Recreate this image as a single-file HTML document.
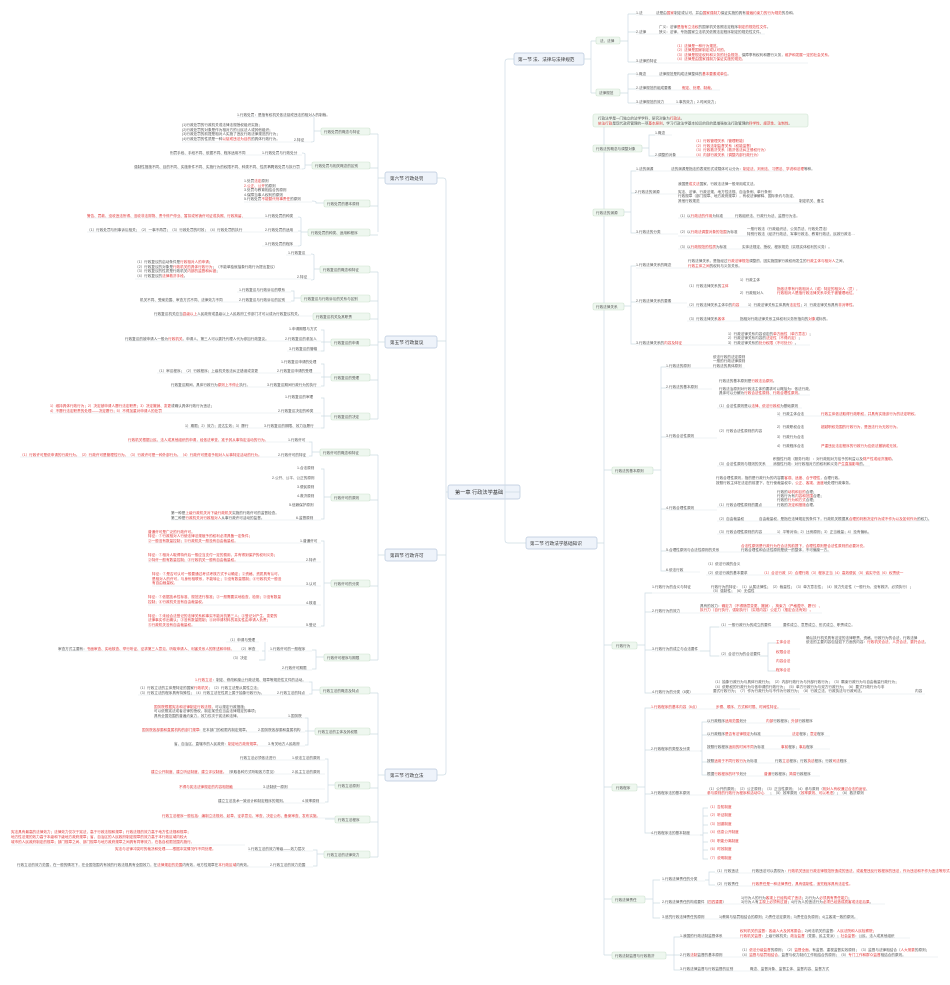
<!DOCTYPE html>
<html><head><meta charset="utf-8">
<style>
html,body{margin:0;padding:0;background:#fff;}
svg{display:block;font-family:"Liberation Sans","Noto Sans CJK SC",sans-serif;}
.g{fill:#555;font-size:3.6px}
.r{fill:#e03a3a;font-size:3.6px}
.n{font-size:4.6px;fill:#333}
.b{font-size:5.2px;fill:#333}
.l{fill:none;stroke:#cddbe4;stroke-width:0.7}
.u{fill:none;stroke:#dfe7ec;stroke-width:0.5}
.sb{fill:#eef3fa;stroke:#b8c8dc;stroke-width:0.7}
.nb{fill:#eef7ef;stroke:#cfe3d0;stroke-width:0.6}
</style></head><body>
<svg width="950" height="985" viewBox="0 0 950 985" xmlns="http://www.w3.org/2000/svg">
<!-- central -->
<rect class="sb" x="448" y="485" width="72" height="14" rx="2"/>
<text class="b" x="455" y="494">第一章 行政法学基础</text>
<!-- left trunk -->
<path class="l" d="M448 492 H446 V181 Q446 178 443 178 H437 M446 492 V772 Q446 775 443 775 H437 M446 341 H437 M446 555 H437"/>
<!-- right trunk -->
<path class="l" d="M520 492 H505 V62 Q505 59 508 59 H514 M505 492 V540 Q505 543 508 543 H526"/>
<!-- section nodes -->
<rect class="sb" x="385" y="172" width="52" height="12" rx="2"/><text class="n" x="390" y="180">第六节 行政处罚</text>
<rect class="sb" x="385" y="336" width="52" height="12" rx="2"/><text class="n" x="390" y="344">第五节 行政复议</text>
<rect class="sb" x="385" y="549" width="52" height="12" rx="2"/><text class="n" x="390" y="557">第四节 行政许可</text>
<rect class="sb" x="385" y="769" width="52" height="12" rx="2"/><text class="n" x="390" y="777">第三节 行政立法</text>
<rect class="sb" x="514" y="53" width="70" height="12" rx="2"/><text class="n" x="518" y="61">第一节 法、法律与法律规范</text>
<rect class="sb" x="526" y="537" width="71" height="12" rx="2"/><text class="n" x="530" y="545">第二节 行政法学基础知识</text>

<!-- LEFT section connectors -->
<path class="l" d="M385 178 H378 M378 134 V232 M378 134 H370 M378 168 H370 M378 206 H370 M378 235 H370"/>
<path class="l" d="M385 342 H378 M378 272 V419 M378 272 H370 M378 301 H370 M378 319 H370 M378 345 H370 M378 380 H370 M378 419 H370"/>
<path class="l" d="M385 555 H378 M378 455 V660 M378 455 H370 M378 500 H370 M378 586 H370 M378 660 H370"/>
<path class="l" d="M385 775 H378 M378 693 V857 M378 693 H370 M378 734 H370 M378 788 H370 M378 822 H370 M378 857 H370"/>

<!-- LEFT second-level nodes -->
<g>
<rect class="nb" x="321" y="128" width="49" height="7" rx="1.5"/><text class="g" x="324" y="133">行政处罚的概念与特征</text>
<rect class="nb" x="312" y="162" width="58" height="7" rx="1.5"/><text class="g" x="315" y="167">行政处罚与相关概念的区别</text>
<rect class="nb" x="324" y="200" width="46" height="7" rx="1.5"/><text class="g" x="327" y="205">行政处罚的基本原则</text>
<rect class="nb" x="308" y="229" width="62" height="7" rx="1.5"/><text class="g" x="311" y="234">行政处罚的种类、适用和程序</text>
<rect class="nb" x="320" y="266" width="50" height="7" rx="1.5"/><text class="g" x="323" y="271">行政复议的概念和特征</text>
<rect class="nb" x="301" y="295" width="69" height="7" rx="1.5"/><text class="g" x="304" y="300">行政复议与行政诉讼的关系与区别</text>
<rect class="nb" x="313" y="313" width="57" height="7" rx="1.5"/><text class="g" x="316" y="318">行政复议机关及其职责</text>
<rect class="nb" x="331" y="339" width="39" height="7" rx="1.5"/><text class="g" x="334" y="344">行政复议的申请</text>
<rect class="nb" x="331" y="374" width="39" height="7" rx="1.5"/><text class="g" x="334" y="379">行政复议的受理</text>
<rect class="nb" x="331" y="413" width="39" height="7" rx="1.5"/><text class="g" x="334" y="418">行政复议的决定</text>
<rect class="nb" x="320" y="449" width="50" height="7" rx="1.5"/><text class="g" x="323" y="454">行政许可的概念和特征</text>
<rect class="nb" x="331" y="494" width="39" height="7" rx="1.5"/><text class="g" x="334" y="499">行政许可的原则</text>
<rect class="nb" x="331" y="580" width="39" height="7" rx="1.5"/><text class="g" x="334" y="585">行政许可的分类</text>
<rect class="nb" x="324" y="654" width="46" height="7" rx="1.5"/><text class="g" x="327" y="659">行政许可程序与期限</text>
<rect class="nb" x="320" y="687" width="50" height="7" rx="1.5"/><text class="g" x="323" y="692">行政立法的概念及特点</text>
<rect class="nb" x="315" y="728" width="55" height="7" rx="1.5"/><text class="g" x="318" y="733">行政立法的主体及其权限</text>
<rect class="nb" x="335" y="782" width="35" height="7" rx="1.5"/><text class="g" x="338" y="787">行政立法原则</text>
<rect class="nb" x="335" y="816" width="35" height="7" rx="1.5"/><text class="g" x="338" y="821">行政立法程序</text>
<rect class="nb" x="324" y="851" width="46" height="7" rx="1.5"/><text class="g" x="327" y="856">行政立法的法律效力</text>
</g>

<!-- LEFT leaves: connectors -->
<path class="l" d="M321 131 H314 V117 Q314 116 311 116 M314 131 V141 Q314 142 311 142
M312 165 H305 V154 Q305 153 302 153 M305 165 V168 Q305 169 302 169
M324 203 H316 V202 Q316 201 312 201
M308 232 H301 V218 Q301 217 298 217 M301 232 V245 Q301 246 298 246 M301 232 V231 H298
M320 269 H314 V255 Q314 254 311 254 M314 269 V279 Q314 280 311 280
M301 298 H294 V291 H291 M294 298 V301 H291
M331 342 H324 V330 H321 M324 342 V351 H321 M324 342 H321
M331 377 H324 V364 H321 M324 377 V386 H321 M324 377 H321
M331 416 H324 V398 H321 M324 416 V428 H321 M324 416 H321
M320 452 H312 V442 H309 M312 452 V456 H309
M331 497 H324 V469 H321 M324 497 V519 H321
M331 583 H324 V541 H321 M324 583 V626 H321
M324 657 H316 V650 H312 M316 657 V669 H312
M320 690 H312 V682 H309 M312 690 V694 H309
M315 731 H308 V718 H305 M308 731 V745 H305 M308 731 H305
M335 785 H328 V759 H325 M328 785 V802 H325
M335 819 H328 H325
M324 854 H317 V850 H313 M317 854 V866 H313"/>

<!-- LEFT leaf texts -->
<g>
<text class="g" x="237" y="116">1.行政处罚：是指有权机关依法惩戒违法的相对人的制裁。</text><path class="u" d="M237 117 H311"/>
<text class="g" x="182" y="126">(1)行政处罚的行政机关或法律法规授权组织实施；</text>
<text class="g" x="182" y="131">(2)行政处罚的对象是作为相对方的公民法人或其他组织；</text>
<text class="g" x="182" y="135">(3)行政处罚的前提是相对人实施了违反行政法律规范的行为；</text>
<text class="g" x="182" y="140">(4)行政处罚的性质是一种<tspan class="r">以惩戒违法为目的</tspan>的具体行政行为。</text><text class="g" x="294" y="141">2.特征</text><path class="u" d="M182 142 H311"/>
<text class="g" x="170" y="154">刑罚手段、手段不同、依据不同、程序适用不同</text><text class="g" x="262" y="154">1.行政处罚与行政处分</text><path class="u" d="M170 155 H302"/>
<text class="g" x="134" y="168">强制性措施不同、目的不同、实施条件不同、实施行为的权限不同、种类不同、性质不同</text><text class="g" x="268" y="168">2.行政处罚与执行罚</text><path class="u" d="M134 169 H302"/>
<text class="g" x="244" y="182">1.处罚<tspan class="r">法定</tspan>原则</text>
<text class="g" x="244" y="187"><tspan class="r">2.公正、公开</tspan>的原则</text>
<text class="g" x="244" y="191">3.处罚与教育相结合的原则</text>
<text class="g" x="244" y="196">4.保障当事人权利的原则</text>
<text class="g" x="244" y="200">5.行政处罚<tspan class="r">不能替代刑事责任</tspan>的原则</text><path class="u" d="M244 202 H312"/>
<text class="r" x="87" y="217">警告、罚款、没收违法所得、没收非法财物、责令停产停业、暂扣或吊销许可证或执照、行政拘留、</text><text class="g" x="265" y="217">1.行政处罚的种类</text><path class="u" d="M87 218 H298"/>
<text class="g" x="87" y="231">（1）行政处罚与刑事诉讼相关；（2）一事不再罚；（3）行政处罚的时效；（4）行政处罚的执行</text><text class="g" x="265" y="231">2.行政处罚的适用</text><path class="u" d="M87 232 H298"/>
<text class="g" x="265" y="245">3.行政处罚的程序</text><path class="u" d="M262 246 H298"/>
<text class="g" x="288" y="254">1.行政复议</text><path class="u" d="M286 255 H311"/>
<text class="g" x="135" y="263">（1）行政复议的启动条件是<tspan class="r">行政相对人的申请</tspan>；</text>
<text class="g" x="135" y="268">（2）行政复议的对象是<tspan class="r">行政机关的具体行政行为</tspan>；（不能单独就抽象行政行为提出复议）</text>
<text class="g" x="135" y="272">（3）行政复议的性质是行政机关<tspan class="r">内部的监督和纠错</tspan>；</text>
<text class="g" x="135" y="277">（4）行政复议的<tspan class="r">法律救济手段</tspan>。</text><text class="g" x="297" y="278">2.特征</text><path class="u" d="M135 279 H311"/>
<text class="g" x="239" y="291">1.行政复议与行政诉讼的联系</text><path class="u" d="M237 292 H291"/>
<text class="g" x="140" y="301">机关不同、受案范围、审查方式不同、法律效力不同</text><text class="g" x="239" y="301">2.行政复议与行政诉讼的区别</text><path class="u" d="M140 302 H291"/>
<text class="g" x="154" y="315">行政复议机关应当<tspan class="r">县级以上</tspan>人民政府或县级以上人民政府工作部门才可以成为行政复议机关。</text><path class="u" d="M154 316 H313"/>
<text class="g" x="289" y="330">1.申请期限与方式</text>
<text class="g" x="125" y="340">行政复议的被申请人一般为<tspan class="r">行政机关</tspan>。申请人、第三人可以委托代理人代为参加行政复议。</text><text class="g" x="285" y="340">2.行政复议的参加人</text><path class="u" d="M125 341 H321"/>
<text class="g" x="289" y="350">3.行政复议的管辖</text><path class="u" d="M287 351 H321"/>
<text class="g" x="281" y="363">1.行政复议申请的处理</text>
<text class="g" x="157" y="372">（1）审议程序；（2）行政程序；上级机关依法纠正错误或变更</text><text class="g" x="277" y="372">2.行政复议申请的受理</text><path class="u" d="M157 373 H321"/>
<text class="g" x="171" y="386">行政复议期间，具体行政行为<tspan class="r">原则上不停止</tspan>执行。</text><text class="g" x="267" y="386">3.行政复议期间行政行为的执行</text><path class="u" d="M171 387 H321"/>
<text class="g" x="285" y="398">1.行政复议的审理</text>
<text class="g" x="50" y="407"><tspan class="r">1）维持具体行政行为；2）决定被申请人履行法定职责；3）决定撤销、变更</tspan>或确认具体行政行为违法；</text>
<text class="r" x="50" y="412">4）不履行法定职责的处理——决定履行；5）不得加重对申请人的处罚</text><text class="g" x="278" y="412">2.行政复议决定的种类</text><path class="u" d="M50 413 H321"/>
<text class="g" x="185" y="427">1）期限；2）效力；送达生效；3）履行</text><text class="g" x="264" y="427">3.行政复议的期限、效力及履行</text><path class="u" d="M185 428 H321"/>
<text class="r" x="128" y="441">行政机关根据公民、法人或其他组织的申请，经依法审查，准予其从事特定活动的行为。</text><text class="g" x="288" y="441">1.行政许可</text><path class="u" d="M128 442 H309"/>
<text class="r" x="20" y="456">（1）行政许可是依申请的行政行为。（2）行政许可是管理性行为。（3）行政许可是一种外部行为。（4）行政许可是准予相对人从事特定活动的行为。</text><text class="g" x="278" y="456">2.行政许可的特征</text><path class="u" d="M20 457 H309"/>
<text class="g" x="297" y="469">1.合法原则</text>
<text class="g" x="272" y="479">2.公开、公平、公正的原则</text>
<text class="g" x="297" y="488">3.便民原则</text>
<text class="g" x="297" y="497">4.救济原则</text>
<text class="g" x="289" y="506">5.信赖保护原则</text>
<text class="g" x="171" y="514">第一种是<tspan class="r">上级行政机关对下级行政机关</tspan>实施的行政许可的监督检查。</text>
<text class="g" x="171" y="519">第二种是<tspan class="r">行政机关对行政相对人</tspan>从事行政许可活动的监督。</text><text class="g" x="296" y="519">6.监督原则</text><path class="u" d="M171 520 H321"/>
<text class="r" x="148" y="533">普通许可是广泛的行政许可。</text>
<text class="r" x="148" y="537">特征：①行政相对人行使法律法规赋予的权利必须具备一定条件；</text>
<text class="r" x="148" y="542">②一般没有数量控制；③行政机关一般没有自由裁量权。</text><text class="g" x="300" y="542">1.普通许可</text><path class="u" d="M148 543 H321"/>
<text class="r" x="148" y="556">特征：①相对人取得特许后一般应当支付一定的费用，并有得到保护的权利义务；</text>
<text class="r" x="148" y="561">②特许一般有数量控制；③行政机关一般有自由裁量权。</text><text class="g" x="306" y="561">2.特许</text><path class="u" d="M148 562 H321"/>
<text class="r" x="152" y="575">特征：①是否可认可一般要通过考试考核方式予以确定；②资格、资质具有认可，</text>
<text class="r" x="152" y="580">是相对人的许可，与身份相联系，不能转让；③没有数量限制；④行政机关一般没</text>
<text class="r" x="152" y="584">有自由裁量权。</text><text class="g" x="306" y="585">3.认可</text><path class="u" d="M152 586 H321"/>
<text class="r" x="148" y="598">特征：①依据技术性标准、规范进行核准；②一般需要实地检查、检测；③没有数量</text>
<text class="r" x="148" y="603">控制；④行政机关没有自由裁量权。</text><text class="g" x="306" y="604">4.核准</text><path class="u" d="M148 605 H321"/>
<text class="r" x="148" y="617">特征：①未经合法登记的法律关系和事实不能对抗第三人；②登记对产生、变更的</text>
<text class="r" x="148" y="621">法律事实作出确认；③没有数量限制；④对申请材料的真实性由申请人负责；</text>
<text class="r" x="148" y="626">⑤行政机关没有自由裁量权。</text><text class="g" x="306" y="626">5.登记</text><path class="u" d="M148 627 H321"/>
<text class="g" x="228" y="641">（1）申请与受理</text><path class="u" d="M226 642 H259"/>
<text class="g" x="58" y="650">审查方式主要有：<tspan class="r">书面审查、实地核查、举行听证、征求第三人意见，听取申请人、利害关系人的陈述和申辩。</tspan></text><text class="g" x="239" y="650">（2）审查</text><path class="u" d="M58 651 H259"/>
<text class="g" x="231" y="659">（3）决定</text><text class="g" x="270" y="650">1.行政许可的一般程序</text><path class="u" d="M268 651 H312"/>
<text class="g" x="282" y="669">2.行政许可期限</text><path class="u" d="M280 670 H312"/>
<path class="l" d="M262 651 H265 V642 M265 651 V660 H259"/>
<text class="g" x="195" y="681"><tspan class="r">1.行政立法</tspan>：制定、修改和废止行政法规、规章等规范性文件的活动。</text><path class="u" d="M195 682 H309"/>
<text class="g" x="138" y="689">（1）行政立法的主体是特定的国家<tspan class="r">行政机关</tspan>；（2）行政立法是从属性立法；</text>
<text class="g" x="138" y="694">（3）行政立法的程序具有特殊性；（4）行政立法在性质上属于抽象行政行为。</text><text class="g" x="277" y="694">2.行政立法的特点</text><path class="u" d="M138 695 H309"/>
<text class="r" x="154" y="708">国务院根据宪法和法律制定行政法规，<tspan class="g">可以规定行政措施；</tspan></text>
<text class="g" x="154" y="712">可以依照宪法或者法律的授权，制定某些应当由法律规定的事项；</text>
<text class="g" x="154" y="717">具有全国范围的普遍约束力，效力仅次于宪法和法律。</text><text class="g" x="288" y="717">1.国务院</text><path class="u" d="M154 718 H305"/>
<text class="r" x="142" y="731">国务院各部委和直属机构的部门规章</text><text class="g" x="199" y="731">：在本部门的权限内制定规章。</text><text class="g" x="258" y="731">2.国务院各部委和直属机构</text><path class="u" d="M142 732 H305"/>
<text class="g" x="174" y="745">省、自治区、直辖市的人民政府：<tspan class="r">制定地方政府规章。</tspan></text><text class="g" x="268" y="745">3.有关地方人民政府</text><path class="u" d="M174 746 H305"/>
<text class="g" x="240" y="759">行政立法必须依法进行</text><text class="g" x="292" y="759">1.依法立法的原则</text><path class="u" d="M240 760 H325"/>
<text class="r" x="151" y="773">建立公开制度、建立听证制度、建立评议制度。<tspan class="g">（采取各种方式听取各方意见）</tspan></text><text class="g" x="292" y="773">2.民主立法的原则</text><path class="u" d="M151 774 H325"/>
<text class="r" x="179" y="788">不得与宪法法律规定的内容相抵触</text><text class="g" x="263" y="788">3.法制统一原则</text><path class="u" d="M179 789 H325"/>
<text class="g" x="218" y="802">建立立法技术一致设计和制定程序的规则。</text><text class="g" x="302" y="802">4.效率原则</text><path class="u" d="M218 803 H325"/>
<text class="r" x="162" y="817">行政立法程序一般包括：编制立法规划、起草、征求意见、审查、决定公布、备案审查、发布实施。</text><path class="u" d="M162 818 H335"/>
<text class="r" x="11" y="833">宪法具有最高的法律效力；法律效力仅次于宪法，高于行政法规和规章；行政法规的效力高于地方性法规和规章；</text>
<text class="r" x="11" y="838">地方性法规的效力高于本级和下级地方政府规章；省、自治区的人民政府制定规章的效力高于本行政区域内较大</text>
<text class="r" x="11" y="843">城市的人民政府制定的规章；部门规章之间、部门规章与地方政府规章之间具有同等效力，在各自权限范围内施行。</text><text class="g" x="248" y="850">1.行政立法的效力等级——效力层次</text><path class="u" d="M11 845 H245 M248 851 H313"/>
<text class="r" x="115" y="850">宪法与法律冲突时的裁决和处理——根据冲突情况作不同处理。</text>
<text class="g" x="17" y="866">行政立法的效力范围，在一般的情况下，在全国范围内有效的行政法规具有全国效力，在<tspan class="r">法律规定的范围</tspan>内有效，地方性规章在<tspan class="r">本行政区域</tspan>内有效。</text><text class="g" x="270" y="866">2.行政立法的效力范围</text><path class="u" d="M17 867 H313"/>
</g>

<!-- RIGHT: 第一节 -->
<path class="l" d="M584 59 H591 M591 41 V93 M591 41 H596 M591 93 H596 M620 41 H628 M628 14 V62 M628 14 H636 M628 32 H636 M628 62 H636 M620 93 H628 M628 74 V103 M628 74 H636 M628 89 H636 M628 103 H636"/>
<rect class="nb" x="596" y="37" width="24" height="7" rx="1.5"/><text class="g" x="600" y="42">法、法律</text>
<rect class="nb" x="596" y="89" width="24" height="7" rx="1.5"/><text class="g" x="599" y="94">法律规范</text>
<g>
<text class="g" x="636" y="14">1.法</text><text class="g" x="656" y="14">法是由<tspan class="r">国家</tspan>制定或认可，并由<tspan class="r">国家强制力</tspan>保证实施的具有<tspan class="r">普遍约束力的行为规范</tspan>的总和。</text><path class="u" d="M636 15 H771"/>
<text class="g" x="659" y="28">广义：法律<tspan class="r">是指有立法权</tspan>的国家机关依照法定程序<tspan class="r">制定的规范性文件</tspan>。</text>
<text class="g" x="636" y="33">2.法律</text><text class="g" x="659" y="33">狭义：法律，专指国家立法机关依照法定程序制定的规范性文件。</text><path class="u" d="M636 34 H765"/>
<text class="r" x="675" y="47">（1）法律是一种行为规范。</text>
<text class="r" x="675" y="51">（2）法律是国家制定或认可的。</text>
<text class="r" x="675" y="56">（3）法律是规定权利和义务的社会规范，<tspan class="g">保障享有权利和履行义务，</tspan>维护和发展一定的社会关系。</text>
<text class="r" x="675" y="60">（4）法律是由国家强制力保证实施的规范。</text>
<text class="g" x="636" y="62">3.法律的特征</text><path class="u" d="M636 63 H808"/>
<text class="g" x="636" y="75">1.概念</text><text class="g" x="659" y="75">法律规范是构成法律整体的<tspan class="r">基本要素或单位</tspan>。</text><path class="u" d="M636 76 H727"/>
<text class="g" x="636" y="89">2.法律规范的组成要素</text><text class="r" x="682" y="89">假定、处理、制裁。</text><path class="u" d="M636 90 H720"/>
<text class="g" x="636" y="103">3.法律规范的效力</text><text class="g" x="676" y="103">1.事的效力；2.时间效力；</text><path class="u" d="M636 104 H715"/>
</g>

<!-- RIGHT: 第二节 trunk -->
<path class="l" d="M597 543 H604 M604 121 V955 M604 121 H593 M604 148 H593 M604 212 H593 M604 306 H593 M604 470 H612 M604 645 H612 M604 787 H612 M604 899 H612 M604 955 H612"/>
<rect class="nb" x="593" y="114" width="215" height="13" rx="2"/>
<text class="g" x="598" y="119.5">行政法学是一门独立的法学学科，研究对象为<tspan class="r">行政法</tspan>。</text>
<text class="g" x="598" y="124.5"><tspan class="r">依法行政</tspan>是现代政府管理的一项<tspan class="r">基本原则</tspan>，学习行政法学基本知识的目的是增强依法行政管理的<tspan class="r">科学性、规范性、法制性</tspan>。</text>
<rect class="nb" x="593" y="145" width="49" height="7" rx="1.5"/><text class="g" x="596" y="150">行政法的概念与调整对象</text>
<rect class="nb" x="593" y="209" width="31" height="7" rx="1.5"/><text class="g" x="596" y="214">行政法的渊源</text>
<rect class="nb" x="593" y="303" width="31" height="7" rx="1.5"/><text class="g" x="596" y="308">行政法律关系</text>
<rect class="nb" x="612" y="467" width="41" height="7" rx="1.5"/><text class="g" x="615" y="472">行政法的基本原则</text>
<rect class="nb" x="612" y="642" width="25" height="7" rx="1.5"/><text class="g" x="616" y="647">行政行为</text>
<rect class="nb" x="612" y="784" width="25" height="7" rx="1.5"/><text class="g" x="616" y="789">行政程序</text>
<rect class="nb" x="612" y="896" width="33" height="7" rx="1.5"/><text class="g" x="615" y="901">行政法律责任</text>
<rect class="nb" x="612" y="952" width="54" height="7" rx="1.5"/><text class="g" x="615" y="957">行政法制监督与行政救济</text>

<path class="l" d="M642 148 H649 V135 H655 M649 148 V156 H655
M624 212 H631 V171 H636 M631 212 V193 H636 M631 212 V233 H636
M624 306 H631 V266 H636 M631 306 V302 H636 M631 306 V344 H636
M653 470 H661 V367 H666 M661 470 V388 H666 M661 470 V437 H666 M661 470 V509 H666 M661 470 V551 H666 M661 470 V571 H666
M637 645 H645 V593 H652 M645 645 V612 H652 M645 645 V650 H652 M645 645 V693 H652
M637 787 H645 V708 H651 M645 787 V750 H651 M645 787 V794 H651 M645 787 V833 H651
M645 899 H653 V880 H660 M653 899 V903 H660 M653 899 V918 H660
M666 955 H674 V937 H680 M674 955 V955 H680 M674 955 V970 H680"/>
<g>
<text class="g" x="655" y="134">1.概念</text><path class="u" d="M655 135 H672"/>
<text class="r" x="694" y="142">（1）行政管理关系（管理职能）</text>
<text class="r" x="694" y="147">（2）行政法制监督关系（权能监督）</text>
<text class="r" x="694" y="151">（3）行政救济关系（救济依法纠正侵权行为）</text>
<text class="r" x="694" y="156">（4）内部行政关系（调整内部行政行为）</text>
<text class="g" x="655" y="156">2.调整的对象</text><path class="u" d="M655 157 H755"/>
<text class="g" x="636" y="170">1.法的渊源</text><text class="g" x="671" y="170">法的渊源是指法的表现形式或载体可以分为：<tspan class="r">制定法、判例法、习惯法、学说和法理</tspan>等种。</text><path class="u" d="M636 171 H787"/>
<text class="g" x="678" y="185">我国是<tspan class="r">成文法</tspan>国家，行政法法律一般采用成文法。</text>
<text class="g" x="678" y="193">宪法、法律、行政法规、地方性法规、自治条例、单行条例</text>
<text class="g" x="678" y="197">行政规章（部门规章、地方政府规章），有权法律解释、国际条约与协定、</text>
<text class="g" x="678" y="202">其他行政规范</text><text class="g" x="635" y="193">2.行政法的渊源</text><text class="g" x="799" y="202">制定机关、备注</text><path class="u" d="M636 194 H678 M678 203 H820"/>
<text class="g" x="678" y="217">（1）以<tspan class="r">行政法的作用</tspan>为标准</text><text class="g" x="735" y="217">行政组织法、行政行为法、监督行为法。</text><path class="u" d="M678 218 H795"/>
<text class="g" x="636" y="233">3.行政法的分类</text><text class="g" x="678" y="233">（2）以<tspan class="r">行政法调整对象的范围</tspan>为标准</text><text class="g" x="747" y="230">一般行政法（行政组织法、公务员法、行政处罚法）</text><text class="g" x="747" y="235">特别行政法（经济行政法、军事行政法、教育行政法、民政行政法…</text><path class="u" d="M636 234 H678 M678 236 H845"/>
<text class="g" x="678" y="248">（3）以<tspan class="r">行政规范的性质</tspan>为标准</text><text class="g" x="742" y="248">实体法规定、授权、程序规范（实现实体权利的义务）。</text><path class="u" d="M678 249 H825"/>
<text class="g" x="636" y="266">1.行政法律关系的概念</text><text class="g" x="688" y="262">行政法律关系，是指经过<tspan class="r">行政法律规范</tspan>调整的，因实施国家行政权而发生的<tspan class="r">行政主体与相对人</tspan>之间，</text><text class="r" x="688" y="267">行政主体之间<tspan class="g">的权利与义务关系。</tspan></text><path class="u" d="M636 268 H838"/>
<text class="g" x="740" y="281">1）行政主体</text>
<text class="g" x="687" y="287">（1）行政法律关系的<tspan class="r">主体</tspan></text><text class="r" x="777" y="290">指依法享有行政相对人（或）特定的相对人（员），</text>
<text class="g" x="740" y="294">2）行政相对人</text><text class="r" x="777" y="294">行政相对人是指行政法律关系中处于被管理地位。</text>
<text class="g" x="636" y="302">2.行政法律关系的要素</text><text class="g" x="687" y="306">（2）行政法律关系主体中的<tspan class="r">内容</tspan></text><text class="g" x="748" y="306">1）行政法律关系主体具有<tspan class="r">法定性</tspan>；2）行政法律关系具有<tspan class="r">非对等性</tspan>。</text><path class="u" d="M636 303 H687 M687 307 H845"/>
<text class="g" x="687" y="320">（3）行政法律关系<tspan class="r">客体</tspan></text><text class="g" x="740" y="320">指相对行政法律关系主体权利义务所指向的<tspan class="r">对象</tspan>或标的。</text><path class="u" d="M687 321 H820"/>
<text class="g" x="728" y="335">1）行政法律关系内容设定的<tspan class="r">单方面性（单方意志）</tspan>；</text>
<text class="g" x="728" y="339">2）行政法律关系内容的<tspan class="r">法定性（不得约定）</tspan>；</text>
<text class="g" x="636" y="344">3.行政法律关系的<tspan class="r">内容及特征</tspan></text><text class="g" x="728" y="344">3）行政法律关系的<tspan class="r">处分权限（不可处分）</tspan>。</text><path class="u" d="M636 345 H810"/>
<text class="g" x="713" y="358">依法行政的法定原则</text><text class="g" x="713" y="362">一般的行政法律原则</text><text class="g" x="713" y="367">行政法的具体原则</text>
<text class="g" x="666" y="367">1.行政法的原则</text><path class="u" d="M666 368 H745"/>
<text class="g" x="719" y="382">行政法的基本原则是<tspan class="r">行政法治原则</tspan>。</text>
<text class="g" x="666" y="388">2.行政法的基本原则</text><text class="g" x="719" y="390">行政法治原则对行政法主体的要求可以概括为：依法行政，</text><text class="g" x="719" y="394">具体可以分解为<tspan class="r">行政合法性原则、行政合理性原则</tspan>。</text><path class="u" d="M666 389 H712 M719 395 H810"/>
<text class="g" x="717" y="407">（1）合法性原则是以<tspan class="r">法律、依法行政权</tspan>为基础原则</text><path class="u" d="M717 408 H802"/>
<text class="g" x="777" y="415">1）行政主体合法</text><text class="r" x="821" y="415">行政主体依法取得行政职权，并具有实施该行为的法定职权。</text>
<text class="g" x="717" y="432">（2）行政合法性原则的内容</text><text class="g" x="777" y="428">2）行政职权合法</text><text class="r" x="821" y="428">超越职权范围的行政行为，是违法行为无效行为。</text>
<text class="g" x="777" y="438">3）行政行为合法</text>
<text class="g" x="777" y="447">4）行政程序合法</text><text class="r" x="821" y="447">严重违反法定程序的行政行为应依法撤销或无效。</text>
<text class="g" x="666" y="437">3.行政合法性原则</text><text class="g" x="717" y="465">（3）合法性原则与规则的关系</text><text class="g" x="773" y="460">积极性行政（服务行政）：对行政相对方给予的利益以及<tspan class="r">财产性或经济援助</tspan>。</text><text class="g" x="773" y="465">消极性行政：对行政相对方的权利和义务<tspan class="r">产生直接影响</tspan>的。</text><path class="u" d="M666 438 H717 M717 466 H870 M777 416 H880"/>
<text class="g" x="716" y="479">行政合理性原则，指的是行政行为的内容要<tspan class="r">客观、适度、合乎理性</tspan>，合理行政。</text>
<text class="g" x="716" y="484">按照行政主体在法定的前提下，在行使裁量权中，<tspan class="r">公正、客观、适度</tspan>地处理行政事务。</text>
<text class="g" x="777" y="493">行政的<tspan class="r">动机和目的</tspan>合理；</text><text class="g" x="777" y="497">行政行为有<tspan class="r">内容和范围</tspan>合理；</text><text class="g" x="777" y="501">行政的<tspan class="r">行为和方式</tspan>合理；</text><text class="g" x="777" y="506">行政的<tspan class="r">决定和措施</tspan>合理。</text>
<text class="g" x="666" y="509">4.行政合理性原则</text><text class="g" x="717" y="506">（1）行政合理性原则的要点</text><path class="u" d="M666 510 H717 M717 507 H800"/>
<text class="g" x="717" y="520">（2）自由裁量权</text><text class="g" x="759" y="520">自由裁量权，是指在法律规定的条件下，行政机关根据其<tspan class="r">合理的判断决定作为或不作为以及如何作为</tspan>的权力。</text><path class="u" d="M717 521 H930"/>
<text class="g" x="717" y="533">（3）行政合理性原则的内容</text><text class="g" x="777" y="533">1）平等对待；2）比例原则；3）正当裁量；4）没有偏私。</text><path class="u" d="M717 534 H870"/>
<text class="r" x="741" y="547">合法性原则是行政行为在合法的前提下，合理性原则是合法性原则的必要补充。</text>
<text class="g" x="666" y="551">5.合理性原则与合法性原则的关系</text><text class="g" x="741" y="551">行政合理性和合法性原则是统一的整体，不可偏废一方。</text><path class="u" d="M666 552 H830"/>
<text class="g" x="706" y="565">（1）依法行政的含义</text>
<text class="g" x="666" y="571">6.依法行政</text><text class="g" x="706" y="574">（2）依法行政的基本要求</text><text class="r" x="762" y="574">（1）合法行政（2）合理行政（3）程序正当（4）高效便民（5）诚实守信（6）权责统一</text><path class="u" d="M666 572 H700 M706 575 H900"/>
<text class="g" x="652" y="588">1.行政行为的含义与特征</text><text class="g" x="711" y="588">行政行为的特征：（1）从属法律性；（2）裁量性；（3）单方意志性；（4）效力先定性（一般行为、没有救济、必须执行）；</text><text class="g" x="711" y="592">（5）强制性；（6）无偿性</text><path class="u" d="M652 593 H900"/>
<text class="g" x="652" y="612">2.行政行为的效力</text><text class="g" x="700" y="607">具有的效力：<tspan class="r">确定力（不得随意变更、撤销）、拘束力（严格遵守、履行）、</tspan></text><text class="r" x="700" y="611">执行力（自行执行、强制执行）（实现内容）公定力（推定合法有效）。</text><path class="u" d="M652 613 H822"/>
<text class="g" x="719" y="626">（1）一般行政行为的成立的要件</text><text class="g" x="783" y="626">要件成立、意思成立、形式成立、职责成立。</text><path class="u" d="M719 627 H838"/>
<text class="r" x="776" y="643">主体合法</text><text class="g" x="806" y="639">确认执行机关具有法定的法律职责、资格，行政行为的合法，行政法律</text><text class="g" x="806" y="643">依法的主要内容包括如下方面的内容：<tspan class="r">行政机关合法、人员合法、委托合法</tspan>。</text>
<text class="g" x="652" y="650">3.行政行为的成立与合法要件</text><text class="g" x="719" y="655">（2）合法行为的合法要件</text><text class="r" x="776" y="653">权限合法</text><text class="r" x="776" y="662">内容合法</text><text class="r" x="776" y="671">程序合法</text><path class="u" d="M652 651 H700 M719 656 H760"/>
<path class="l" d="M700 651 H710 V627 H719 M710 651 V656 H719 M760 656 H768 V643 H776 M768 656 V653 M768 656 V671 H776"/>
<text class="g" x="713" y="683">（1）抽象行政行为与具体行政行为；（2）内部行政行为与外部行政行为；（3）羁束行政行为与自由裁量行政行为；</text>
<text class="g" x="713" y="688">（4）依职权的行政行为与依申请的行政行为；（5）单方行政行为与双方行政行为；（6）要式行政行为与非</text>
<text class="g" x="652" y="693">4.行政行为的分类（8类）</text><text class="g" x="713" y="692">要式行政行为；（7）作为行政行为与不作为行政行为；（8）行政立法、行政执法与行政司法。</text><text class="g" x="915" y="692">内容</text><path class="u" d="M652 694 H925"/>
<text class="r" x="651" y="708">1.行政程序的基本内容（6点）</text><text class="r" x="716" y="708">步骤、顺序、方式和时限、时间性特征。</text><path class="u" d="M651 709 H800"/>
<text class="g" x="707" y="722">以行政程序<tspan class="r">适用范围</tspan>划分</text><text class="r" x="766" y="722">内部<tspan class="g">行政程序；</tspan>外部<tspan class="g">行政程序</tspan></text>
<text class="g" x="707" y="735">以行政程序<tspan class="r">是否有法律规定</tspan>为标准</text><text class="r" x="792" y="735">法定<tspan class="g">程序；</tspan>意定<tspan class="g">程序</tspan></text>
<text class="g" x="651" y="750">2.行政程序的类型及分类</text><text class="g" x="707" y="748">按照行政程序<tspan class="r">适用的时间不同</tspan>为标准</text><text class="r" x="781" y="748">事前<tspan class="g">程序；</tspan>事后<tspan class="g">程序</tspan></text>
<text class="g" x="707" y="762">按照<tspan class="r">适用于不同行政行为</tspan>为标准</text><text class="g" x="775" y="762">行政<tspan class="r">立法</tspan>程序；行政<tspan class="r">执法</tspan>程序；行政<tspan class="r">司法</tspan>程序</text>
<text class="g" x="707" y="775">根据<tspan class="r">行政程序的环节</tspan>划分</text><text class="r" x="764" y="775">普通<tspan class="g">行政程序；</tspan>简易<tspan class="g">行政程序</tspan></text>
<path class="l" d="M700 751 H702 V722 H707 M702 751 V735 H707 M702 751 V762 H707 M702 751 V775 H707"/>
<path class="u" d="M651 751 H700 M707 723 H805 M707 736 H830 M707 749 H830 M707 763 H850 M707 776 H820"/>
<text class="g" x="707" y="790">（1）公开的原则；（2）公正原则；（3）正当性原则；（4）参与原则（<tspan class="r">相对人有权通过合法的途径</tspan>、</text>
<text class="g" x="651" y="794">3.行政程序法的基本原则</text><text class="r" x="707" y="794">参与原则的行政行为程序和活动中心</text><text class="g" x="770" y="794">；（5）效率原则（<tspan class="r">效率原则、可以考虑</tspan>）；（6）救济原则</text><path class="u" d="M651 795 H855"/>
<text class="r" x="708" y="808">（1）告知制度</text><text class="r" x="708" y="816">（2）听证制度</text><text class="r" x="708" y="825">（3）回避制度</text><text class="r" x="708" y="833">（4）信息公开制度</text><text class="r" x="708" y="842">（5）职能分离制度</text><text class="r" x="708" y="850">（6）时效制度</text><text class="r" x="708" y="859">（7）说明制度</text>
<text class="g" x="651" y="834">4.行政程序法的基本制度</text><path class="u" d="M651 835 H700"/>
<path class="l" d="M700 835 H703 V808 H708 M703 835 V859 H708 M703 816 H708 M703 825 H708 M703 833 H708 M703 842 H708 M703 850 H708"/>
<text class="g" x="662" y="880">1.行政法律责任的分类</text><text class="g" x="715" y="872">（1）行政违法</text><text class="g" x="752" y="872">行政违法可以表现为：<tspan class="r">行政机关违反行政法律规范所造成的违法，或者是违反行政程序的违法，作为违法和不作为违法等形式。</tspan></text><text class="g" x="715" y="885">（2）行政责任</text><text class="r" x="752" y="885">行政责任是一种法律责任，具有强制性，追究程序具有法定性。</text>
<path class="l" d="M705 880 H709 V872 H715 M709 880 V885 H715"/><path class="u" d="M662 881 H705 M715 873 H938 M715 886 H845"/>
<text class="g" x="662" y="903">2.行政法律责任的构成要件（<tspan class="r">四四重要</tspan>）</text><text class="g" x="741" y="899">1)行为人的行为<tspan class="r">客观上已经构成了违法</tspan>；2)行为人<tspan class="r">必须具有责任能力</tspan>；</text><text class="g" x="741" y="903">3)行为人有<tspan class="r">主观上必须有过错</tspan>；4)行为人的违法行为<tspan class="r">必须已经造成损害或法定后果</tspan>。</text><path class="u" d="M662 904 H885"/>
<text class="g" x="662" y="918">3.追究行政法律责任的原则</text><text class="g" x="719" y="918">1)教育与惩罚相结合的原则；2)责任法定原则；3)责任自负原则；4)主客观一致的原则。</text><path class="u" d="M662 919 H858"/>
<text class="r" x="740" y="932">权利机关的监督：各级人大及其常委会；<tspan class="g">2)司法机关的监督：</tspan>人民法院和人民检察院；</text>
<text class="g" x="680" y="937">1.我国的行政法制监督体系</text><text class="r" x="740" y="937">行政机关监督<tspan class="g">：上级行政机关；</tspan>政治监督<tspan class="g">（党委、民主党派）；</tspan>社会监督<tspan class="g">：公民、法人或其他组织</tspan></text><path class="u" d="M680 938 H910"/>
<text class="g" x="740" y="951">（1）<tspan class="r">依法分级监督</tspan>的原则；（2）<tspan class="r">监督全面</tspan>、有监督、重视监督实效原则；（3）监督与法律相结合（<tspan class="r">人大常委</tspan>的原则；</text>
<text class="g" x="680" y="956">2.行政<tspan class="r">法制</tspan>监督的基本原则</text><text class="g" x="740" y="956">（4）<tspan class="r">监督与惩罚相结合</tspan>，监督与权力制约工作相结合的原则；（5）<tspan class="r">专门工作和群众监督</tspan>相结合的原则。</text><path class="u" d="M680 957 H938"/>
<text class="g" x="680" y="970">3.行政法律监督与行政监督的区别</text><text class="g" x="750" y="970">概念、监督对象、监督主体、监督内容、监督方式</text><path class="u" d="M680 971 H830"/>
</g>
</svg>
</body></html>
